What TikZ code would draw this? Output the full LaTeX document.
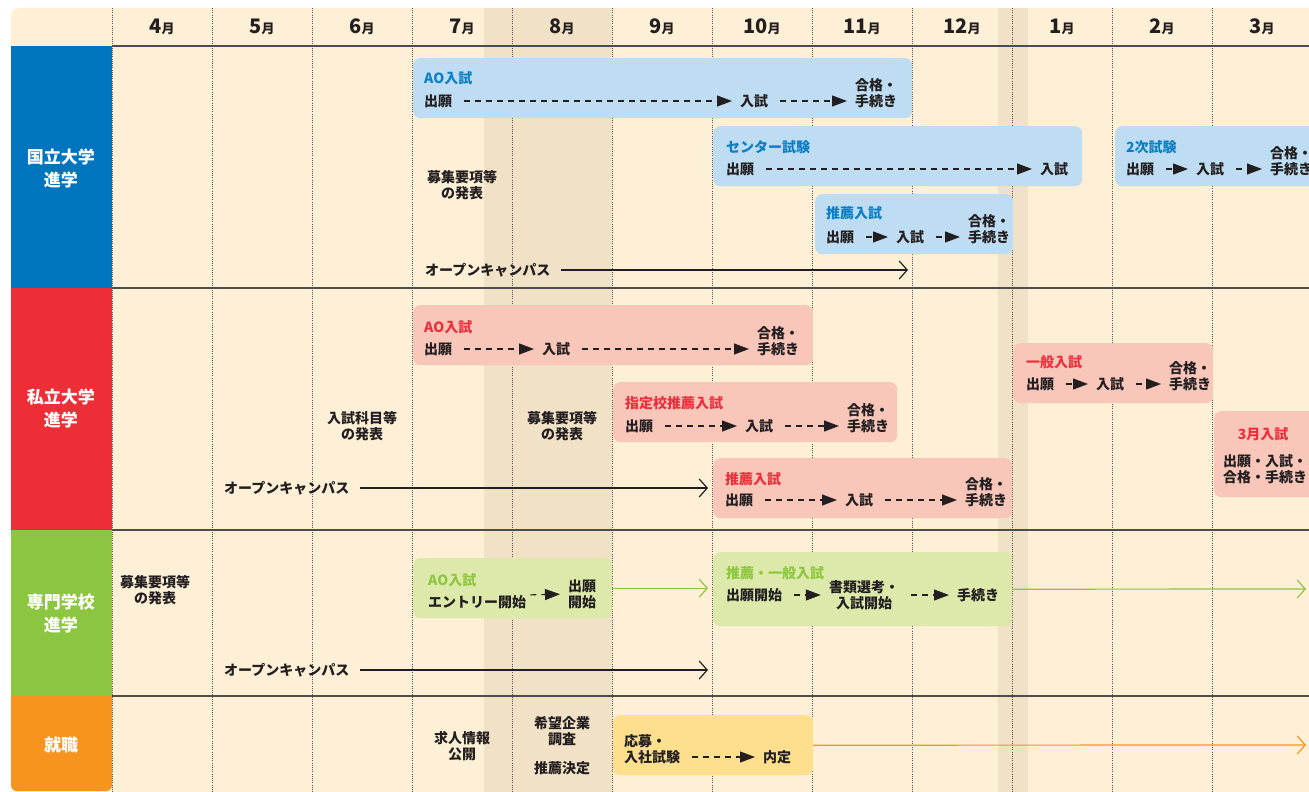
\documentclass[tikz,border=0pt]{standalone}
\usepackage{fontspec}
\setmainfont{Noto Sans CJK JP}
\usetikzlibrary{arrows.meta}
\definecolor{ink}{HTML}{231F20}
\definecolor{cream}{HTML}{FDF0D6}
\definecolor{band}{HTML}{F1E1C6}
\definecolor{blueL}{HTML}{0075BF}
\definecolor{redL}{HTML}{EE2E37}
\definecolor{greenL}{HTML}{8CC540}
\definecolor{orangeL}{HTML}{F7941D}
\definecolor{boxB}{HTML}{BFDDF2}
\definecolor{txtB}{HTML}{0B7EC6}
\definecolor{boxR}{HTML}{F9C6BA}
\definecolor{txtR}{HTML}{EC2F3A}
\definecolor{boxG}{HTML}{DDE9AB}
\definecolor{txtG}{HTML}{8DC63F}
\definecolor{boxY}{HTML}{FDDF8D}
\definecolor{rule}{HTML}{4D4D4D}
\definecolor{dotc}{HTML}{555555}
\tikzset{
  t/.style={font=\bfseries\fontsize{14pt}{16pt}\selectfont, text=ink, inner sep=0pt, anchor=west, align=left},
  tc/.style={t, anchor=center, align=center},
  ttlB/.style={t, text=txtB},
  ttlR/.style={t, text=txtR},
  ttlG/.style={t, text=txtG},
  lab/.style={font=\bfseries\fontsize{17pt}{23pt}\selectfont, text=white, align=center, inner sep=0pt},
  mon/.style={inner sep=0pt, text=ink, font=\bfseries},
  bx/.style={rounded corners=7pt, inner sep=0pt, anchor=north west},
  dar/.style={draw=ink, line width=1.2pt, dash pattern=on 6pt off 5pt, -{Triangle[length=15pt,width=11pt]}, shorten <=12pt, shorten >=8pt},
  oar/.style={draw=ink, line width=1.2pt, -{Straight Barb[length=8pt,width=18pt,line width=1.2pt]}, shorten <=10pt},
  gar/.style={draw=txtG, line width=1.2pt, -{Straight Barb[length=8pt,width=18pt,line width=1.2pt]}},
  yar/.style={draw=orangeL, line width=1.2pt, -{Straight Barb[length=8pt,width=18pt,line width=1.2pt]}},
  dotline/.style={draw=dotc, line width=0.9pt, dash pattern=on 1pt off 1.2pt},
  rl/.style={draw=rule, line width=1.5pt}
}
\begin{document}
\begin{tikzpicture}[x=1pt,y=-1pt]
\useasboundingbox (0,0) rectangle (1309,792);
% background
\fill[cream, rounded corners=8pt] (11,8) rectangle (1330,810);
\fill[band] (484,8) rectangle (612,800);
\fill[band] (998,8) rectangle (1028,800);
% left column
\fill[blueL] (11,46) rectangle (112,288);
\fill[redL] (11,288) rectangle (112,530);
\fill[greenL] (11,530) rectangle (112,696);
\fill[orangeL] (11,696) rectangle (112,730);
\fill[orangeL, rounded corners=6pt] (11,705) rectangle (112,791);
% grid
\foreach \x in {112,212,...,1212} \draw[dotline] (\x,8) -- (\x,800);
\draw[rl] (112,46) -- (1309,46);
\draw[rl] (112,288) -- (1309,288);
\draw[rl] (112,530) -- (1309,530);
\draw[rl] (112,696) -- (1309,696);
% months
\foreach \m [count=\i] in {4,5,6,7,8,9,10,11,12,1,2,3}
  \node[mon] (m\i) at (62+100*\i,27) {{\fontsize{20pt}{20pt}\selectfont\m}{\fontsize{13pt}{13pt}\selectfont 月}};
% row labels
\node[lab] (L1) at (61,168) {国立大学\\進学};
\node[lab] (L2) at (61,408) {私立大学\\進学};
\node[lab] (L3) at (61,613) {専門学校\\進学};
\node[lab] (L4) at (61,745) {就職};

% ===== Row 1 =====
\node[bx, fill=boxB, minimum width=499pt, minimum height=60pt] (k1) at (413,58) {};
\node[ttlB] (k1t) at (424,78) {AO入試};
\node[t] (k1a) at (424,101) {出願};
\node[t] (k1b) at (740,101) {入試};
\node[t] (k1c) at (855,93) {合格・\\手続き};
\draw[dar] (k1a) -- (k1b);
\draw[dar] (k1b) -- (k1b -| k1c.west);

\node[bx, fill=boxB, minimum width=369pt, minimum height=60pt] (k2) at (713,126) {};
\node[ttlB] (k2t) at (726,147) {センター試験};
\node[t] (k2a) at (726,169) {出願};
\node[t] (k2b) at (1040,169) {入試};
\draw[dar] (k2a) -- (k2b);

\node[bx, fill=boxB, minimum width=230pt, minimum height=60pt] (k3) at (1115,126) {};
\node[ttlB] (k3t) at (1126,147) {2次試験};
\node[t] (k3a) at (1126,169) {出願};
\node[t] (k3b) at (1196,169) {入試};
\node[t] (k3c) at (1270,161) {合格・\\手続き};
\draw[dar] (k3a) -- (k3b);
\draw[dar] (k3b) -- (k3b -| k3c.west);

\node[bx, fill=boxB, minimum width=198pt, minimum height=60pt] (k4) at (815,194) {};
\node[ttlB] (k4t) at (826,213) {推薦入試};
\node[t] (k4a) at (826,237) {出願};
\node[t] (k4b) at (896,237) {入試};
\node[t] (k4c) at (968,229) {合格・\\手続き};
\draw[dar] (k4a) -- (k4b);
\draw[dar] (k4b) -- (k4b -| k4c.west);

\node[tc] (n1) at (462,185) {募集要項等\\の発表};
\node[t] (oc1) at (425,270) {オープンキャンパス};
\coordinate (oc1e) at (908,270);
\draw[oar] (oc1) -- (oc1e);

% ===== Row 2 =====
\node[bx, fill=boxR, minimum width=400pt, minimum height=60pt] (p1) at (413,305) {};
\node[ttlR] (p1t) at (424,327) {AO入試};
\node[t] (p1a) at (424,349) {出願};
\node[t] (p1b) at (542,349) {入試};
\node[t] (p1c) at (757,341) {合格・\\手続き};
\draw[dar] (p1a) -- (p1b);
\draw[dar] (p1b) -- (p1b -| p1c.west);

\node[bx, fill=boxR, minimum width=284pt, minimum height=60pt] (p2) at (613,382) {};
\node[ttlR] (p2t) at (625,403) {指定校推薦入試};
\node[t] (p2a) at (625,426) {出願};
\node[t] (p2b) at (745,426) {入試};
\node[t] (p2c) at (847,418) {合格・\\手続き};
\draw[dar] (p2a) -- (p2b);
\draw[dar] (p2b) -- (p2b -| p2c.west);

\node[bx, fill=boxR, minimum width=299pt, minimum height=60pt] (p3) at (713,458) {};
\node[ttlR] (p3t) at (725,479) {推薦入試};
\node[t] (p3a) at (725,500) {出願};
\node[t] (p3b) at (845,500) {入試};
\node[t] (p3c) at (965,492) {合格・\\手続き};
\draw[dar] (p3a) -- (p3b);
\draw[dar] (p3b) -- (p3b -| p3c.west);

\node[bx, fill=boxR, minimum width=200pt, minimum height=60pt] (p4) at (1013,343) {};
\node[ttlR] (p4t) at (1026,362) {一般入試};
\node[t] (p4a) at (1026,384) {出願};
\node[t] (p4b) at (1096,384) {入試};
\node[t] (p4c) at (1169,376) {合格・\\手続き};
\draw[dar] (p4a) -- (p4b);
\draw[dar] (p4b) -- (p4b -| p4c.west);

\node[bx, fill=boxR, minimum width=120pt, minimum height=86pt] (p5) at (1214,411) {};
\node[ttlR, anchor=center] (p5t) at (1263,434) {3月入試};
\node[tc] (p5a) at (1265,469) {出願・入試・\\合格・手続き};

\node[tc] (n2) at (362,426) {入試科目等\\の発表};
\node[tc] (n3) at (562,426) {募集要項等\\の発表};
\node[t] (oc2) at (224,488) {オープンキャンパス};
\coordinate (oc2e) at (708,488);
\draw[oar] (oc2) -- (oc2e);

% ===== Row 3 =====
\node[tc] (n4) at (155,590) {募集要項等\\の発表};
\node[bx, fill=boxG, minimum width=199pt, minimum height=60pt] (g1) at (413,558) {};
\node[ttlG] (g1t) at (428,580) {AO入試};
\node[t] (g1a) at (428,602) {エントリー開始};
\node[t] (g1b) at (568,594) {出願\\開始};
\draw[dar, shorten <=4pt] ([yshift=7pt]g1a.east) -- (g1b.west);

\node[bx, fill=boxG, minimum width=299pt, minimum height=74pt] (g2) at (713,552) {};
\node[ttlG] (g2t) at (726,573) {推薦・一般入試};
\node[t] (g2a) at (726,595) {出願開始};
\node[tc] (g2b) at (864,595) {書類選考・\\入試開始};
\node[t] (g2c) at (957,595) {手続き};
\draw[dar] (g2a) -- (g2b);
\draw[dar] (g2b) -- (g2c);

\draw[gar] (g1.east) -- (g1.east -| 708,0);
\coordinate (g2e) at (1306,589);
\draw[gar] (g2.east) -- (g2e);

\node[t] (oc3) at (224,670) {オープンキャンパス};
\coordinate (oc3e) at (708,670);
\draw[oar] (oc3) -- (oc3e);

% ===== Row 4 =====
\node[tc] (n5) at (462,746) {求人情報\\公開};
\node[tc] (n6) at (562,731) {希望企業\\調査};
\node[tc] (n7) at (562,768) {推薦決定};
\node[bx, fill=boxY, minimum width=200pt, minimum height=60pt] (y1) at (613,715) {};
\node[t] (y1a) at (624,749) {応募・\\入社試験};
\node[t] (y1b) at (763,757) {内定};
\draw[dar] (y1a.east |- y1b.west) -- (y1b.west);
\coordinate (y1e) at (1306,745);
\draw[yar] (y1.east) -- (y1e);
\end{tikzpicture}
\end{document}
